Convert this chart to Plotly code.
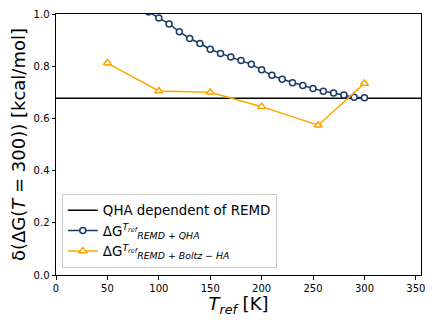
import plotly.graph_objects as go

# reference value: QHA dependent of REMD
qha_ref = 0.677

t_qha = [50, 60, 70, 80, 90, 100, 110, 120, 130, 140, 150, 160, 170, 180, 190, 200,
         210, 220, 230, 240, 250, 260, 270, 280, 290, 300]
dg_qha = [1.16, 1.11, 1.07, 1.04, 1.008, 0.985, 0.962, 0.932, 0.906, 0.887, 0.865, 0.849,
          0.835, 0.822, 0.807, 0.786, 0.765, 0.750, 0.737, 0.726, 0.715, 0.704, 0.697,
          0.690, 0.681, 0.679]
err_qha = [0.006] * len(t_qha)

t_boltz = [50, 100, 150, 200, 255, 300]
dg_boltz = [0.812, 0.705, 0.700, 0.645, 0.574, 0.734]
err_boltz = [0.006] * len(t_boltz)

navy = "#1b3b66"
orange = "#ffa500"

fig = go.Figure()

fig.add_trace(go.Scatter(
    x=[0, 355], y=[qha_ref, qha_ref], mode="lines",
    line=dict(color="black", width=1.5),
    name="QHA dependent of REMD",
))
fig.add_trace(go.Scatter(
    x=t_qha, y=dg_qha, mode="lines+markers",
    line=dict(color=navy, width=1.5),
    marker=dict(symbol="circle", size=6, color="white", line=dict(color=navy, width=1.5)),
    error_y=dict(type="data", array=err_qha, color=navy, thickness=1.5, width=2),
    name="ΔG<sup><i>T<sub>ref</sub></i></sup><sub><i>REMD + QHA</i></sub>",
))
fig.add_trace(go.Scatter(
    x=t_boltz, y=dg_boltz, mode="lines+markers",
    line=dict(color=orange, width=1.5),
    marker=dict(symbol="triangle-up", size=7, color="white", line=dict(color=orange, width=1.5)),
    error_y=dict(type="data", array=err_boltz, color=orange, thickness=1.5, width=2),
    name="ΔG<sup><i>T<sub>ref</sub></i></sup><sub><i>REMD + Boltz − HA</i></sub>",
))

axis_common = dict(
    showgrid=False, zeroline=False, showline=True, linecolor="black", linewidth=1,
    mirror=True, ticks="outside", ticklen=3.5, tickcolor="black",
    tickfont=dict(size=10, color="black"), automargin=False,
)

# page body has an 8px margin, so the figure is sized to fit inside the window
fig.update_layout(
    width=428, height=319,
    margin=dict(l=48, r=15, t=6, b=52),
    paper_bgcolor="white", plot_bgcolor="white",
    font=dict(family="DejaVu Sans", color="black"),
    showlegend=True,
    legend=dict(
        x=0.016, y=0.027, xanchor="left", yanchor="bottom",
        bgcolor="rgba(255,255,255,0.8)", bordercolor="#cccccc", borderwidth=1,
        font=dict(size=13.4), tracegroupgap=0,
    ),
    xaxis=dict(range=[0, 355], tickvals=[0, 50, 100, 150, 200, 250, 300, 350],
               title=dict(text="<i>T<sub>ref</sub></i> [K]", font=dict(size=18), standoff=4),
               **axis_common),
    yaxis=dict(range=[0, 1.0], tickvals=[0, 0.2, 0.4, 0.6, 0.8, 1.0],
               tickformat=".1f",
               title=dict(text="δ(ΔG(<i>T</i> = 300)) [kcal/mol]", font=dict(size=18), standoff=6),
               **axis_common),
)

fig.write_html("out.html")
